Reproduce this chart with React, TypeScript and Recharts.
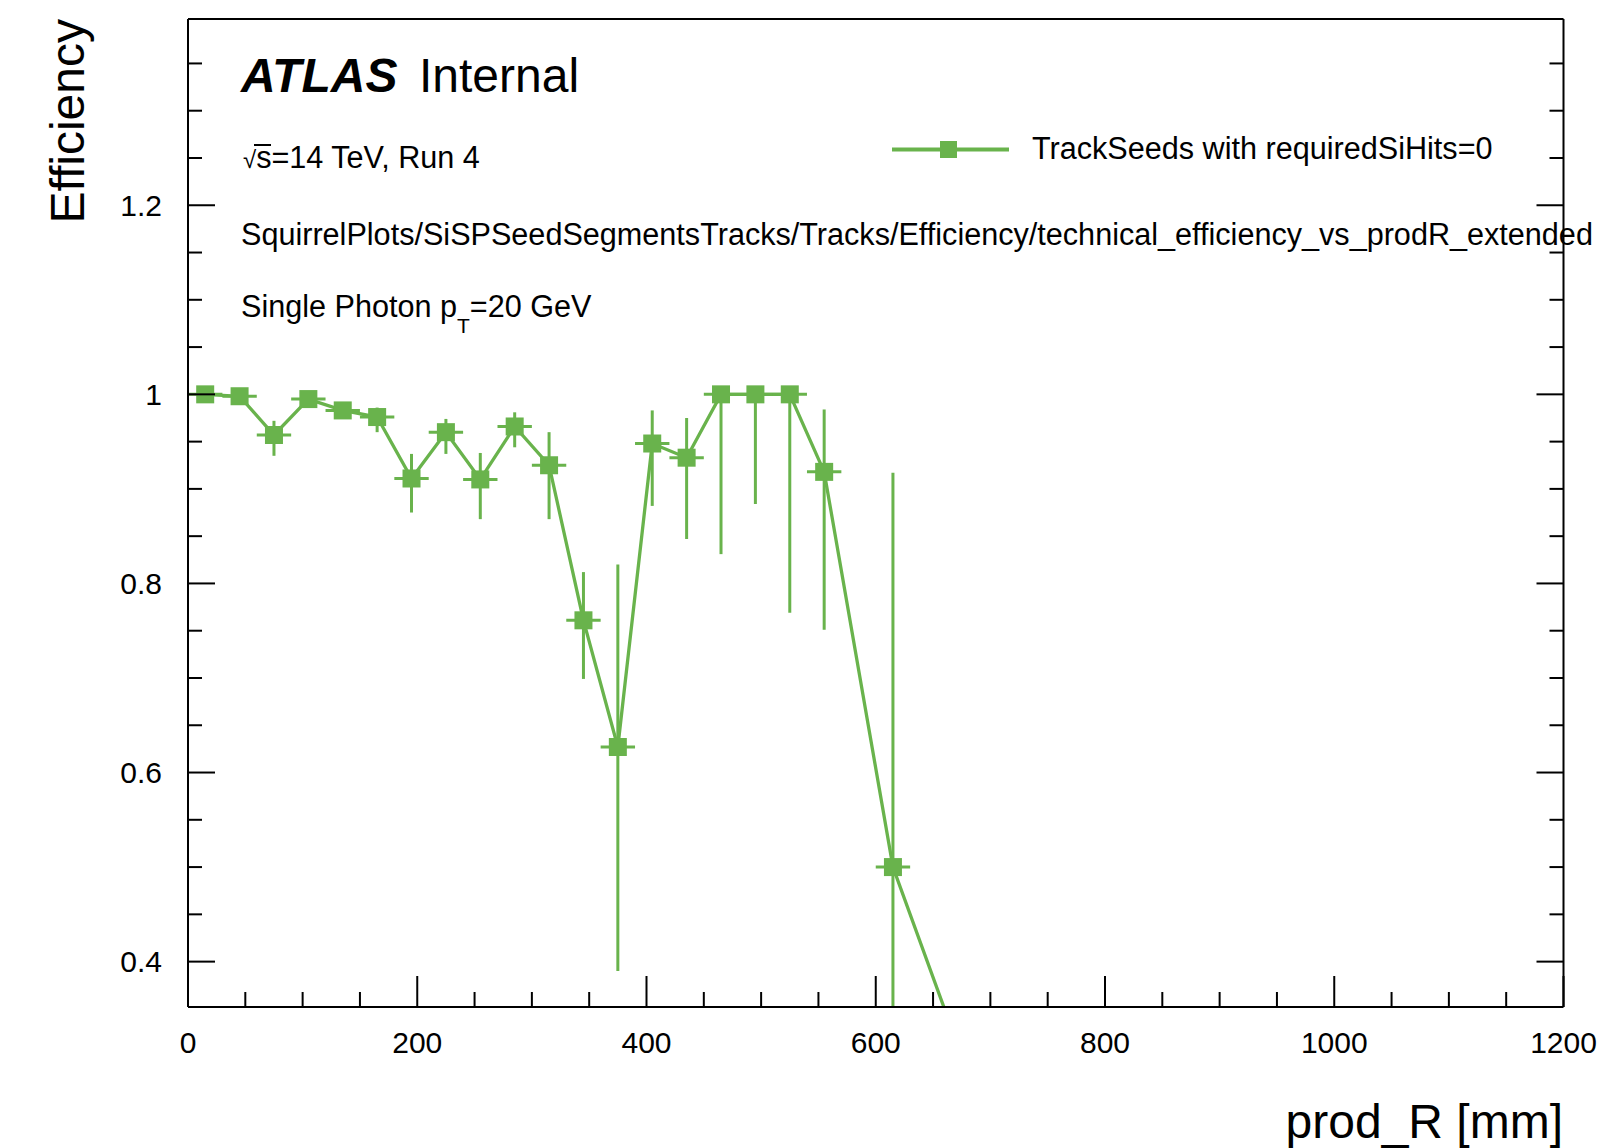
import React from 'react';
import { ComposedChart, Line, Scatter, XAxis, YAxis, ErrorBar } from 'recharts';

// ---- data ----
const prodR = [15, 45, 75, 105, 135, 165, 195, 225, 255, 285, 315, 345, 375, 405, 435, 465, 495, 525, 555, 615, 675];
const efficiency = [1.0, 0.998, 0.957, 0.995, 0.983, 0.976, 0.911, 0.96, 0.91, 0.966, 0.925, 0.761, 0.627, 0.948, 0.933, 1.0, 1.0, 1.0, 0.918, 0.5, 0.3];
const errLow = [0.005, 0.008, 0.022, 0.008, 0.008, 0.016, 0.036, 0.023, 0.042, 0.022, 0.057, 0.062, 0.237, 0.066, 0.086, 0.169, 0.116, 0.231, 0.167, 0.148, 0.1];
const errHigh = [0.0, 0.002, 0.015, 0.005, 0.007, 0.01, 0.026, 0.014, 0.028, 0.015, 0.035, 0.051, 0.193, 0.035, 0.042, 0.0, 0.0, 0.0, 0.066, 0.417, 0.03];
const binHalfWidth = [15, 15, 15, 15, 15, 15, 15, 15, 15, 15, 15, 15, 15, 15, 15, 15, 15, 15, 15, 15, 15];

const xTicks = [0, 50, 100, 150, 200, 250, 300, 350, 400, 450, 500, 550, 600, 650, 700, 750, 800, 850, 900, 950, 1000, 1050, 1100, 1150, 1200];
const xMajor = [0, 200, 400, 600, 800, 1000, 1200];
const yTicks = [0.4, 0.45, 0.5, 0.55, 0.6, 0.65, 0.7, 0.75, 0.8, 0.85, 0.9, 0.95, 1.0, 1.05, 1.1, 1.15, 1.2, 1.25, 1.3, 1.35];
const yMajor = [0.4, 0.6, 0.8, 1, 1.2];
const xDomain = [0, 1200];
const yDomain = [0.352, 1.397];

const seriesName = 'TrackSeeds with requiredSiHits=0';

const rows = prodR.map((r, i) => ({
  r,
  eff: efficiency[i],
  ey: [errLow[i], errHigh[i]],
  ex: binHalfWidth[i],
}));
// markers / error bars only for points inside the visible y range (the frame clips the rest)
const visibleRows = rows.filter((d) => d.eff >= yDomain[0]);

const GREEN = '#69b34c';
const FONT = "'Liberation Sans', Arial, Helvetica, sans-serif";

const isMajor = (list: number[], v: number) => list.some((m) => Math.abs(m - v) < 1e-6);

const LeftTick = (props: any) => {
  const { x, y, payload } = props;
  const major = isMajor(yMajor, payload.value);
  return (
    <g>
      <line x1={x} x2={x + (major ? 27 : 14)} y1={y} y2={y} stroke="#000" strokeWidth={2} />
      {major && (
        <text x={x - 26} y={y + 10.5} textAnchor="end" fontSize={30} fontFamily={FONT} fill="#000">
          {String(payload.value)}
        </text>
      )}
    </g>
  );
};

const RightTick = (props: any) => {
  const { x, y, payload } = props;
  const major = isMajor(yMajor, payload.value);
  return <line x1={x} x2={x - (major ? 27 : 14)} y1={y} y2={y} stroke="#000" strokeWidth={2} />;
};

const BottomTick = (props: any) => {
  const { x, y, payload } = props;
  const major = isMajor(xMajor, payload.value);
  return (
    <g>
      <line x1={x} x2={x} y1={y} y2={y - (major ? 31 : 15)} stroke="#000" strokeWidth={2} />
      {major && (
        <text x={x} y={y + 46} textAnchor="middle" fontSize={30} fontFamily={FONT} fill="#000">
          {String(payload.value)}
        </text>
      )}
    </g>
  );
};

const TopTick = (props: any) => {
  const { x, y, payload } = props;
  const major = isMajor(xMajor, payload.value);
  return <line x1={x} x2={x} y1={y} y2={y + (major ? 31 : 15)} stroke="#000" strokeWidth={2} />;
};

const SquareMarker = (props: any) => {
  const { cx, cy } = props;
  if (cx == null || cy == null) return <g />;
  return <rect x={cx - 9} y={cy - 9} width={18} height={18} fill={GREEN} />;
};

export default function App() {
  return (
    <div style={{ position: 'absolute', left: 0, top: 0, width: 1608, height: 1148, background: '#fff' }}>
      <ComposedChart
        width={1608}
        height={1148}
        data={rows}
        margin={{ top: 18, right: 43.5, bottom: 81, left: 108 }}
      >
        <XAxis
          dataKey="r"
          type="number"
          domain={xDomain}
          ticks={xTicks}
          interval={0}
          height={60}
          tickSize={0}
          tickMargin={0}
          tickLine={false}
          tick={BottomTick}
          axisLine={{ stroke: '#000', strokeWidth: 2 }}
          allowDataOverflow
        />
        <XAxis
          xAxisId="top"
          orientation="top"
          type="number"
          domain={xDomain}
          ticks={xTicks}
          interval={0}
          height={1}
          tickSize={0}
          tickMargin={0}
          tickLine={false}
          tick={TopTick}
          axisLine={{ stroke: '#000', strokeWidth: 2 }}
          allowDataOverflow
        />
        <YAxis
          type="number"
          domain={yDomain}
          ticks={yTicks}
          interval={0}
          width={80}
          tickSize={0}
          tickMargin={0}
          tickLine={false}
          tick={LeftTick}
          axisLine={{ stroke: '#000', strokeWidth: 2 }}
          allowDataOverflow
        />
        <YAxis
          yAxisId="right"
          orientation="right"
          type="number"
          domain={yDomain}
          ticks={yTicks}
          interval={0}
          width={1}
          tickSize={0}
          tickMargin={0}
          tickLine={false}
          tick={RightTick}
          axisLine={{ stroke: '#000', strokeWidth: 2 }}
          allowDataOverflow
        />
        <Line
          dataKey="eff"
          type="linear"
          stroke={GREEN}
          strokeWidth={3.3}
          dot={false}
          activeDot={false}
          isAnimationActive={false}
          name={seriesName}
        />
        <Scatter data={visibleRows} dataKey="eff" shape={SquareMarker} isAnimationActive={false} name={seriesName}>
          <ErrorBar dataKey="ey" direction="y" width={0} stroke={GREEN} strokeWidth={3} isAnimationActive={false} />
          <ErrorBar dataKey="ex" direction="x" width={0} stroke={GREEN} strokeWidth={3} isAnimationActive={false} />
        </Scatter>
      </ComposedChart>

      <svg
        width={1608}
        height={1148}
        style={{ position: 'absolute', left: 0, top: 0, pointerEvents: 'none' }}
        fontFamily={FONT}
      >
        <text x={241} y={92} fontSize={48} fontWeight="bold" fontStyle="italic" fill="#000">ATLAS</text>
        <text x={419} y={92} fontSize={48} fill="#000">Internal</text>

        <text y={168} fontSize={30.6} fill="#000">
          <tspan x={243} fontSize={24}>√</tspan>
          <tspan dx={0}>s=14 TeV, Run 4</tspan>
        </text>
        <line x1={254} x2={271} y1={145} y2={145} stroke="#000" strokeWidth={2} />

        <text x={241} y={245} fontSize={30.6} fill="#000">
          SquirrelPlots/SiSPSeedSegmentsTracks/Tracks/Efficiency/technical_efficiency_vs_prodR_extended
        </text>

        <text y={317} fontSize={30.6} fill="#000">
          <tspan x={241}>Single Photon p</tspan>
          <tspan fontSize={21} dy={16}>T</tspan>
          <tspan fontSize={30.6} dy={-16}>=20 GeV</tspan>
        </text>

        <line x1={892} x2={1009} y1={149.5} y2={149.5} stroke={GREEN} strokeWidth={4} />
        <rect x={940} y={141} width={17} height={17} fill={GREEN} />
        <text x={1032} y={158.5} fontSize={30.6} fill="#000">{seriesName}</text>

        <text x={1563} y={1138} fontSize={48} textAnchor="end" fill="#000">prod_R [mm]</text>
        <text transform="translate(84,19) rotate(-90)" fontSize={48} textAnchor="end" fill="#000">Efficiency</text>
      </svg>
    </div>
  );
}
